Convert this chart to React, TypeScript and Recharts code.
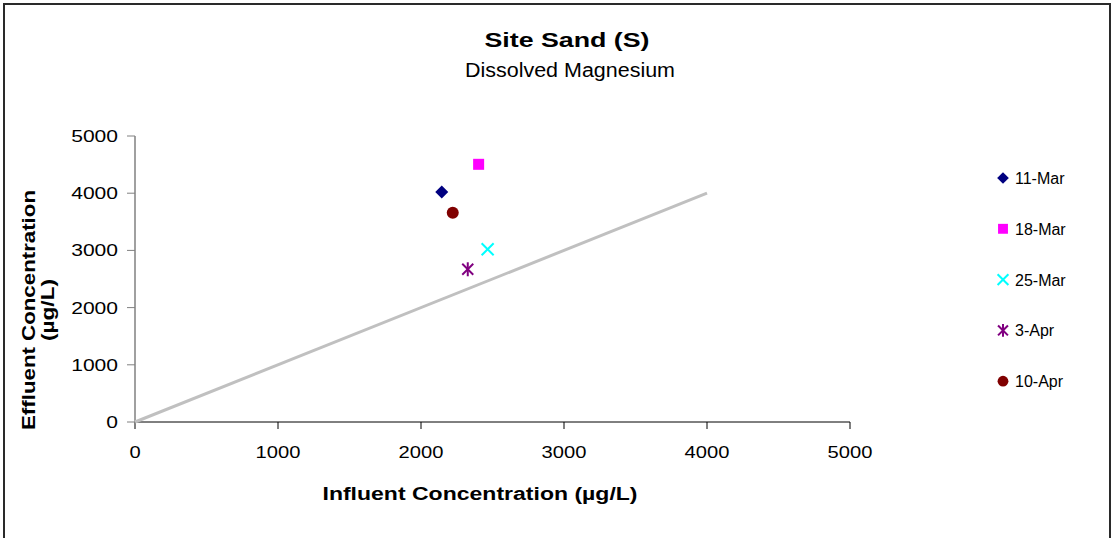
import { ScatterChart, Scatter, XAxis, YAxis } from 'recharts'

// sampling dates and readings (µg/L)
const categories = ['11-Mar', '18-Mar', '25-Mar', '3-Apr', '10-Apr']
const influent = [2145, 2403, 2466, 2327, 2222]
const effluent = [4020, 4505, 3020, 2670, 3660]
const colors = ['#000080', '#FF00FF', '#00FFFF', '#800080', '#800000']
const markers = ['diamond', 'square', 'x', 'star', 'circle']

// 1:1 reference line
const refX = [0, 4000]
const refY = [0, 4000]

const axisTicks = [0, 1000, 2000, 3000, 4000, 5000]

const FONT = '"Liberation Sans", Arial, sans-serif'

function Marker({ kind, cx, cy, color, s = 1 }: { kind: string; cx: number; cy: number; color: string; s?: number }) {
  if (kind === 'diamond') {
    const r = 6.5 * s
    return <polygon points={`${cx},${cy - r} ${cx + r},${cy} ${cx},${cy + r} ${cx - r},${cy}`} fill={color} />
  }
  if (kind === 'square') {
    const h = 5.5 * s
    return <rect x={cx - h} y={cy - h} width={h * 2} height={h * 2} fill={color} />
  }
  if (kind === 'x') {
    const h = 6 * s
    return (
      <g stroke={color} strokeWidth={2}>
        <line x1={cx - h} y1={cy - h} x2={cx + h} y2={cy + h} />
        <line x1={cx - h} y1={cy + h} x2={cx + h} y2={cy - h} />
      </g>
    )
  }
  if (kind === 'star') {
    const h = 5.5 * s
    return (
      <g stroke={color} strokeWidth={2}>
        <line x1={cx - h} y1={cy - h} x2={cx + h} y2={cy + h} />
        <line x1={cx - h} y1={cy + h} x2={cx + h} y2={cy - h} />
        <line x1={cx} y1={cy - h - 1.5} x2={cx} y2={cy + h + 1.5} />
      </g>
    )
  }
  return <circle cx={cx} cy={cy} r={6 * s} fill={color} />
}

function YTick({ x, y, payload }: any) {
  const s = String(payload.value)
  return (
    <text x={x} y={y + 6} textAnchor="end" fontFamily={FONT} fontSize={16} fill="#000"
      textLength={s.length * 11.7} lengthAdjust="spacingAndGlyphs">{s}</text>
  )
}

function XTick({ x, y, payload }: any) {
  const s = String(payload.value)
  return (
    <text x={x} y={y + 27} textAnchor="middle" fontFamily={FONT} fontSize={16} fill="#000"
      textLength={s.length * 11.2} lengthAdjust="spacingAndGlyphs">{s}</text>
  )
}

function LegendBox() {
  return (
    <svg width={110} height={240}>
      {categories.map((c, i) => {
        const cy = 11 + i * 50.8
        return (
          <g key={c}>
            <Marker kind={markers[i]} cx={13} cy={cy} color={colors[i]} s={0.9} />
            <text x={25} y={cy + 6} fontFamily={FONT} fontSize={16} fill="#000">{c}</text>
          </g>
        )
      })}
    </svg>
  )
}

export default function App() {
  const lineData = refX.map((x, i) => ({ x, y: refY[i] }))

  return (
    <div style={{ position: 'absolute', left: 0, top: 0, width: 1113, height: 538, background: '#fff', overflow: 'hidden' }}>
      <div style={{ position: 'absolute', left: 3, top: 3, width: 1104, height: 560, border: '2px solid #2a2a2a' }} />
      <ScatterChart width={1113} height={538} margin={{ top: 136, right: 263, left: 0, bottom: 86 }}
        style={{ position: 'absolute', left: 0, top: 0 }}>
        <XAxis type="number" dataKey="x" domain={[0, 5000]} ticks={axisTicks} interval={0}
          height={30} tickSize={7} tick={<XTick />}
          axisLine={{ stroke: '#000', strokeWidth: 1 }} tickLine={{ stroke: '#000' }} />
        <YAxis type="number" dataKey="y" domain={[0, 5000]} ticks={axisTicks} interval={0}
          width={135} tickSize={8} tickMargin={9} tick={<YTick />}
          axisLine={{ stroke: '#808080', strokeWidth: 1.5 }} tickLine={{ stroke: '#808080' }} />
        <Scatter data={lineData} line={{ stroke: '#C0C0C0', strokeWidth: 3 }} shape={() => <g />}
          legendType="none" isAnimationActive={false} />
        {categories.map((c, i) => (
          <Scatter key={c} name={c} data={[{ x: influent[i], y: effluent[i] }]} fill={colors[i]}
            isAnimationActive={false}
            shape={(p: any) => <Marker kind={markers[i]} cx={p.cx} cy={p.cy} color={colors[i]} />} />
        ))}
      </ScatterChart>
      <div style={{ position: 'absolute', left: 990, top: 167 }}>
        <LegendBox />
      </div>
      <svg width={1113} height={538} style={{ position: 'absolute', left: 0, top: 0, pointerEvents: 'none' }}>
        <text x={567} y={47} textAnchor="middle" fontFamily={FONT} fontSize={20} fontWeight="bold"
          textLength={165} lengthAdjust="spacingAndGlyphs">Site Sand (S)</text>
        <text x={570} y={77} textAnchor="middle" fontFamily={FONT} fontSize={20}
          textLength={210} lengthAdjust="spacingAndGlyphs">Dissolved Magnesium</text>
        <text transform="translate(35,310) rotate(-90)" textAnchor="middle" fontFamily={FONT} fontSize={18}
          fontWeight="bold" textLength={240} lengthAdjust="spacingAndGlyphs">Effluent Concentration</text>
        <text transform="translate(54,310) rotate(-90)" textAnchor="middle" fontFamily={FONT} fontSize={18}
          fontWeight="bold" textLength={62} lengthAdjust="spacingAndGlyphs">(µg/L)</text>
        <text x={480} y={500} textAnchor="middle" fontFamily={FONT} fontSize={18} fontWeight="bold"
          textLength={315} lengthAdjust="spacingAndGlyphs">Influent Concentration (µg/L)</text>
      </svg>
    </div>
  )
}
